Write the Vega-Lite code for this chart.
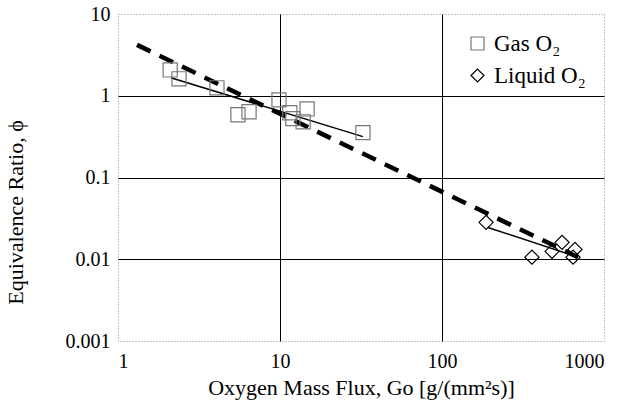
{
  "$schema": "https://vega.github.io/schema/vega-lite/v6.json",
  "width": 486,
  "height": 327,
  "autosize": {"type": "none"},
  "padding": {"left": 118, "top": 14, "right": 23, "bottom": 66},
  "background": "white",
  "config": {
    "view": {"stroke": "#888", "strokeDash": [1, 2], "strokeWidth": 1},
    "font": "Liberation Serif",
    "axis": {
      "labelFont": "Liberation Serif",
      "titleFont": "Liberation Serif",
      "labelColor": "black",
      "titleColor": "black",
      "labelFontSize": 20,
      "titleFontSize": 22,
      "titleFontWeight": "normal",
      "domain": false,
      "ticks": false,
      "gridColor": "black",
      "gridOpacity": 1,
      "gridWidth": 1
    },
    "legend": {
      "labelFont": "Liberation Serif",
      "labelFontSize": 23,
      "labelColor": "black"
    }
  },
  "datasets": {
    "points": [
      {"go": 2.1, "phi": 2.07, "type": "Gas O₂"},
      {"go": 2.38, "phi": 1.61, "type": "Gas O₂"},
      {"go": 4.08, "phi": 1.25, "type": "Gas O₂"},
      {"go": 5.5, "phi": 0.586, "type": "Gas O₂"},
      {"go": 6.44, "phi": 0.638, "type": "Gas O₂"},
      {"go": 9.86, "phi": 0.89, "type": "Gas O₂"},
      {"go": 11.5, "phi": 0.62, "type": "Gas O₂"},
      {"go": 12.0, "phi": 0.525, "type": "Gas O₂"},
      {"go": 14.7, "phi": 0.69, "type": "Gas O₂"},
      {"go": 13.9, "phi": 0.48, "type": "Gas O₂"},
      {"go": 32.5, "phi": 0.354, "type": "Gas O₂"},
      {"go": 187, "phi": 0.0283, "type": "Liquid O₂"},
      {"go": 359, "phi": 0.0106, "type": "Liquid O₂"},
      {"go": 478, "phi": 0.0125, "type": "Liquid O₂"},
      {"go": 551, "phi": 0.0161, "type": "Liquid O₂"},
      {"go": 662, "phi": 0.0132, "type": "Liquid O₂"},
      {"go": 644, "phi": 0.0106, "type": "Liquid O₂"}
    ],
    "fits": [
      {"go": 2.12, "phi": 1.66, "fit": "gas"},
      {"go": 32.5, "phi": 0.316, "fit": "gas"},
      {"go": 192, "phi": 0.0245, "fit": "liquid"},
      {"go": 691, "phi": 0.0106, "fit": "liquid"}
    ],
    "overall": [
      {"go": 1.31, "phi": 4.19},
      {"go": 691, "phi": 0.0106}
    ]
  },
  "encoding": {
    "x": {
      "field": "go", "type": "quantitative",
      "scale": {"type": "log", "domain": [1, 1000], "nice": false},
      "axis": {
        "values": [1, 10, 100, 1000],
        "format": "~g",
        "labelPadding": 10,
        "title": "Oxygen Mass Flux, Go [g/(mm²s)]",
        "titlePadding": 6,
        "gridColor": {"condition": {"test": "datum.value == 1 || datum.value == 1000", "value": "transparent"}, "value": "black"}
      }
    },
    "y": {
      "field": "phi", "type": "quantitative",
      "scale": {"type": "log", "domain": [0.001, 10], "nice": false},
      "axis": {
        "values": [0.001, 0.01, 0.1, 1, 10],
        "format": "~g",
        "labelPadding": 8,
        "title": "Equivalence Ratio,  ϕ",
        "titleX": -91,
        "titleY": 198,
        "gridColor": {"condition": {"test": "datum.value == 0.001 || datum.value == 10", "value": "transparent"}, "value": "black"}
      }
    }
  },
  "layer": [
    {
      "data": {"name": "overall"},
      "mark": {"type": "line", "color": "black", "strokeWidth": 4.5, "strokeDash": [15, 10]},
      "encoding": {}
    },
    {
      "data": {"name": "fits"},
      "mark": {"type": "line", "color": "black", "strokeWidth": 1.5},
      "encoding": {"detail": {"field": "fit"}}
    },
    {
      "data": {"name": "points"},
      "mark": {"type": "point", "filled": false, "strokeWidth": 1.2, "opacity": 1},
      "encoding": {
        "shape": {
          "field": "type", "type": "nominal",
          "scale": {"domain": ["Gas O₂", "Liquid O₂"], "range": ["square", "diamond"]},
          "legend": {"title": null, "orient": "top-right", "offset": 18, "symbolSize": 170, "symbolStrokeWidth": 1.2, "rowPadding": 8, "labelOffset": 5}
        },
        "stroke": {
          "field": "type", "type": "nominal",
          "scale": {"domain": ["Gas O₂", "Liquid O₂"], "range": ["#777777", "black"]},
          "legend": {"title": null, "orient": "top-right", "offset": 18, "symbolSize": 170, "symbolStrokeWidth": 1.2, "rowPadding": 8, "labelOffset": 5}
        },
        "size": {"value": 200}
      }
    }
  ]
}
